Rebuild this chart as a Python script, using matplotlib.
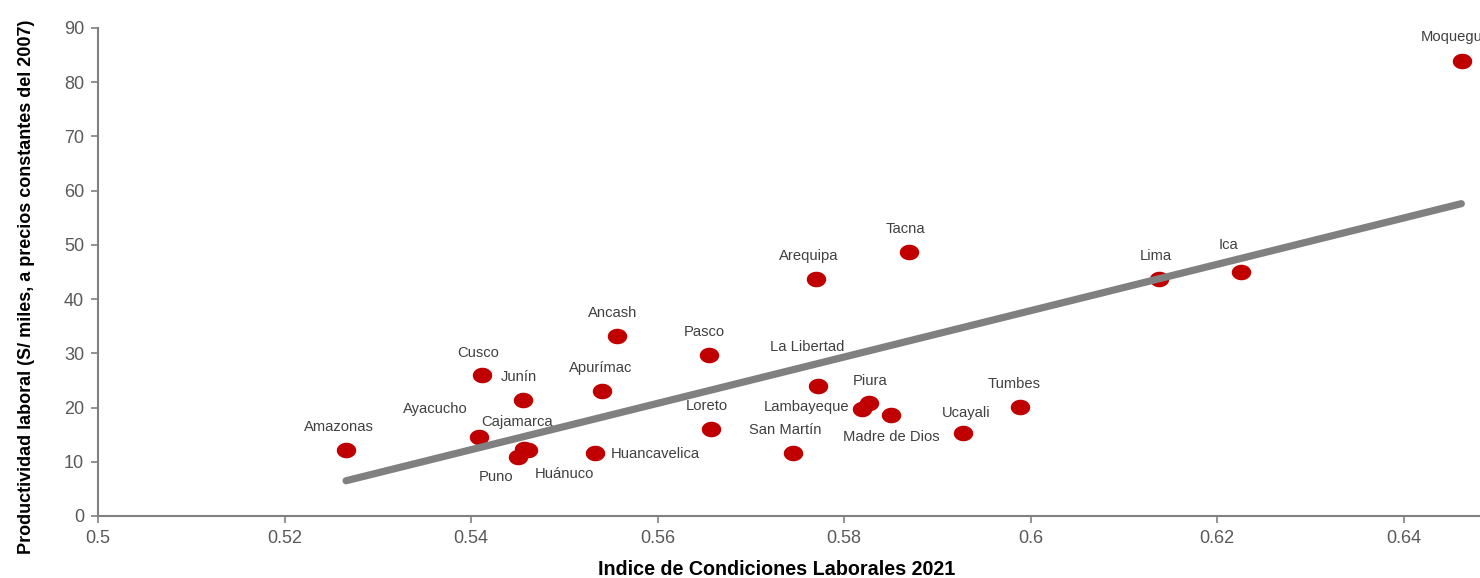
import matplotlib
matplotlib.use("Agg")
import matplotlib.pyplot as plt
import numpy as np
from matplotlib.path import Path

plt.rcParams['font.family'] = ['Liberation Sans', 'DejaVu Sans']

regions = ["Amazonas", "Ayacucho", "Cusco", "Junín", "Cajamarca", "Huánuco", "Puno",
           "Apurímac", "Ancash", "Huancavelica", "Pasco", "Loreto", "Arequipa", "Tacna",
           "La Libertad", "San Martín", "Piura", "Lambayeque", "Madre de Dios", "Ucayali",
           "Tumbes", "Lima", "Ica", "Moquegua"]
icl = [0.5266, 0.5409, 0.5412, 0.5456, 0.5457, 0.5461, 0.5450,
       0.5540, 0.5557, 0.5533, 0.5655, 0.5657, 0.5770, 0.5870,
       0.5772, 0.5745, 0.5827, 0.5819, 0.5850, 0.5928,
       0.5989, 0.6138, 0.6226, 0.6463]
productividad = [12.2, 14.6, 26.0, 21.4, 12.4, 12.2, 10.9,
                 23.1, 33.2, 11.6, 29.7, 16.1, 43.7, 48.7,
                 24.0, 11.6, 20.8, 19.7, 18.6, 15.3,
                 20.1, 43.7, 45.0, 84.0]
trend_x = [0.5266, 0.6462]
trend_y = [6.5, 57.6]

# label offsets in pixels (dx, dy) and horizontal alignment
label_pos = {
    "Amazonas": (-7, 23, 'center'), "Ayacucho": (-44, 28, 'center'),
    "Cusco": (-4, 22, 'center'), "Junín": (-4, 23, 'center'),
    "Cajamarca": (-7, 27, 'center'), "Huánuco": (37, -24, 'center'),
    "Puno": (-22, -20, 'center'), "Apurímac": (-1, 23, 'center'),
    "Ancash": (-5, 23, 'center'), "Huancavelica": (16, -1, 'left'),
    "Pasco": (-4, 23, 'center'), "Loreto": (-4, 23, 'center'),
    "Arequipa": (-7, 23, 'center'), "Tacna": (-4, 23, 'center'),
    "La Libertad": (-11, 39, 'center'), "San Martín": (-7, 23, 'center'),
    "Piura": (1, 22, 'center'), "Lambayeque": (-12, 2, 'right'),
    "Madre de Dios": (1, -22, 'center'), "Ucayali": (3, 20, 'center'),
    "Tumbes": (-6, 23, 'center'), "Lima": (-3, 23, 'center'),
    "Ica": (-13, 27, 'center'), "Moquegua": (-41, 24, 'left'),
}

fig = plt.figure(figsize=(14.8, 5.78), dpi=100)
ax = fig.add_axes([98/1480, 62/578, (1480-98)/1480, 488/578])
ax.set_xlim(0.5, 0.5 + (1480-98)/9325)
ax.set_ylim(0, 90)

t = np.linspace(0, 2*np.pi, 60)
ell = Path(np.column_stack([np.cos(t), 0.8*np.sin(t)]), closed=True)

ax.plot(icl, productividad, linestyle='none', marker=ell, markersize=14,
        color='#C00000', markeredgewidth=0, zorder=3)
ax.plot(trend_x, trend_y, color='#808080', linewidth=5.2,
        solid_capstyle='round', zorder=4)

for name, x, y in zip(regions, icl, productividad):
    dx, dy, ha = label_pos[name]
    ax.annotate(name, (x, y), xytext=(dx, dy), textcoords='offset pixels',
                ha=ha, va='center', fontsize=10.6, color='#404040', zorder=5,
                annotation_clip=False)

ax.set_xticks([0.5, 0.52, 0.54, 0.56, 0.58, 0.6, 0.62, 0.64])
ax.set_xticklabels(["0.5", "0.52", "0.54", "0.56", "0.58", "0.6", "0.62", "0.64"])
ax.set_yticks(range(0, 91, 10))
for s in ['top', 'right']:
    ax.spines[s].set_visible(False)
for s in ['left', 'bottom']:
    ax.spines[s].set_color('#808080')
    ax.spines[s].set_linewidth(1.5)
ax.tick_params(axis='both', colors='#808080', length=5, width=1.2,
               labelsize=13, labelcolor='#595959', pad=5)

ax.set_xlabel("Indice de Condiciones Laborales 2021", fontsize=14.2,
              fontweight='bold', color='black')
ax.set_ylabel("Productividad laboral (S/ miles, a precios constantes del 2007)",
              fontsize=13, fontweight='bold', color='black')
ax.xaxis.set_label_coords(0.4913, -0.090)
ax.yaxis.set_label_coords(-0.0456, 0.469)

fig.savefig("out.png", dpi=100)
